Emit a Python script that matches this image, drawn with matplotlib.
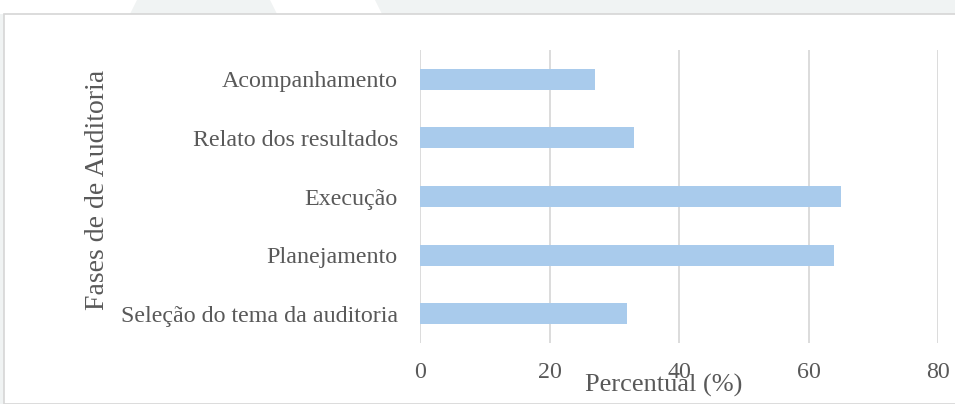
import matplotlib.pyplot as plt
from matplotlib.patches import Polygon, Rectangle

fases = ['Seleção do tema da auditoria', 'Planejamento', 'Execução',
         'Relato dos resultados', 'Acompanhamento']
percentual = [32, 64, 65, 33, 27]
xticks = [0, 20, 40, 60, 80]

plt.rcParams['font.family'] = ['Liberation Serif', 'DejaVu Serif']
cinza = '#595959'

W, H = 955, 404
fig = plt.figure(figsize=(W / 100, H / 100), dpi=100)
fig.patch.set_facecolor('white')

# faint background shapes behind the chart panel
def px(pts):
    return [(x / W, 1 - y / H) for x, y in pts]

fundo = '#f0f3f3'
for pts in ([(137, 0), (270, 0), (277, 14), (130, 14)],
            [(375, 0), (955, 0), (955, 14), (382, 14)],
            [(0, 14), (4, 14), (4, 404), (0, 404)]):
    fig.patches.append(Polygon(px(pts), closed=True, transform=fig.transFigure,
                               facecolor=fundo, edgecolor='none', zorder=0))
fig.patches.append(Rectangle((4 / W, 0), 1, 1 - 14 / H, transform=fig.transFigure,
                             facecolor='white', edgecolor='#d6d6d6', lw=1.2, zorder=0))

ax = fig.add_axes([420 / W, 1 - 343 / H, (938 - 420) / W, (343 - 50) / H])
ax.set_zorder(5)
ax.set_facecolor('none')
ax.barh(range(len(fases)), percentual, height=0.36, color='#a9cbec', zorder=3)
ax.set_xlim(0, 80)
ax.set_ylim(-0.5, len(fases) - 0.5)
ax.set_xticks(xticks)
ax.set_xticklabels([str(t) for t in xticks])
ax.set_yticks(range(len(fases)))
ax.set_yticklabels(fases)
ax.grid(axis='x', color='#d9d9d9', lw=1.3, zorder=0)
for s in ax.spines.values():
    s.set_visible(False)
ax.tick_params(axis='both', length=0, colors=cinza, labelsize=17.3)
ax.tick_params(axis='y', pad=16)
ax.tick_params(axis='x', pad=14)

fig.text(664 / W, 1 - 385 / H, 'Percentual (%)', ha='center', va='center',
         fontsize=19, color=cinza, zorder=6)
fig.text(97 / W, 1 - 190 / H, 'Fases de de Auditoria', ha='center', va='center',
         rotation=90, fontsize=20, color=cinza, zorder=6)

fig.savefig('out.png', dpi=100)
